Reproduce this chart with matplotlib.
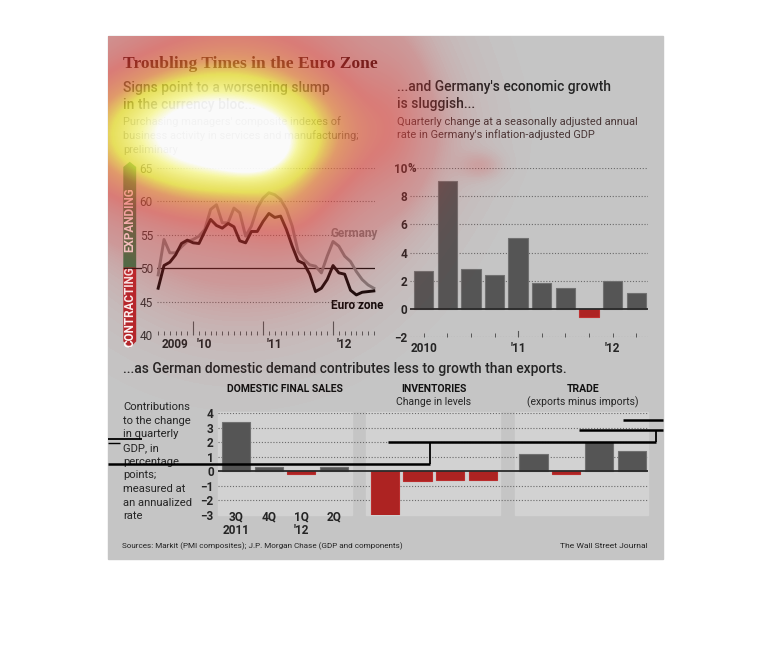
import numpy as np
import matplotlib
matplotlib.use('Agg')
import matplotlib.pyplot as plt
from matplotlib.patches import Rectangle, Polygon
from matplotlib.colors import LinearSegmentedColormap
from matplotlib.transforms import blended_transform_factory as blend

# ---- data ----
# PMI composite, monthly Jul 2009 .. Aug 2012 (flash)
euro_pmi = [47.0, 50.4, 50.9, 52.0, 53.7, 54.2, 53.8, 53.7, 55.5, 57.3,
            56.4, 56.0, 56.7, 56.2, 54.1, 53.8, 55.5, 55.5, 57.0, 58.2,
            57.6, 57.8, 55.8, 53.3, 51.1, 50.7, 49.1, 46.5, 47.0, 48.3,
            50.4, 49.3, 49.1, 46.7, 46.0, 46.4, 46.5, 46.6]
germany_pmi = [49.0, 54.3, 52.3, 52.3, 53.2, 54.0, 54.3, 54.8, 55.8, 58.8,
               59.5, 56.8, 56.8, 59.0, 58.3, 54.8, 56.3, 59.0, 60.5, 61.3,
               61.0, 60.3, 58.8, 56.3, 52.5, 51.3, 50.5, 50.3, 49.3, 51.8,
               54.0, 53.3, 51.8, 51.0, 49.5, 48.3, 47.5, 47.0]
pmi_year_ticks = [6, 18, 30]
pmi_year_labels = ["'10", "'11", "'12"]

# German GDP, quarterly change (annualised), Q1 2010 .. Q2 2012
gdp_growth = [2.7, 9.1, 2.8, 2.4, 5.0, 1.8, 1.5, -0.6, 2.0, 1.1]
gdp_year_idx = [0, 4, 8]
gdp_year_labels = ['2010', "'11", "'12"]

# contributions, 3Q 2011 .. 2Q 2012
quarters = ['3Q', '4Q', '1Q', '2Q']
domestic_sales = [3.4, 0.3, -0.2, 0.3]
inventories = [-3.0, -0.7, -0.6, -0.6]
trade = [1.2, -0.2, 2.0, 1.4]

# ---- figure in pixel terms ----
W, H = 770, 654
fig = plt.figure(figsize=(W / 100, H / 100), dpi=100)
fig.patch.set_facecolor('white')

def box(x0, y0, x1, y1):
    return [x0 / W, 1 - y1 / H, (x1 - x0) / W, (y1 - y0) / H]

SANS = ['Roboto', 'DejaVu Sans']
BG = '#c5c5c5'
PANEL = '#d2d2d2'
DARK = '#252525'
BAR = '#555555'
BAR_EDGE = '#707070'
RED = '#ad2322'
DOT = (0, (1, 1.6))
plt.rcParams['font.family'] = SANS

bg = fig.add_axes([0, 0, 1, 1], zorder=0)
bg.set_xlim(0, W)
bg.set_ylim(H, 0)
bg.axis('off')
bg.add_patch(Rectangle((108, 36), 555, 523, color=BG))

# headings
bg.text(123, 68, 'Troubling Times in the Euro Zone', family='Liberation Serif',
        weight='bold', fontsize=12.6, color='#2a0a0a')
bg.text(123, 92, 'Signs point to a worsening slump', fontsize=10, weight=500, color=DARK)
bg.text(123, 108.5, 'in the currency bloc...', fontsize=10, weight=500, color=DARK)
for i, line in enumerate(["Purchasing managers' composite indexes of",
                          'business activity in services and manufacturing;',
                          'preliminary']):
    bg.text(123, 125 + i * 13.8, line, fontsize=7.9, color='#505050')

bg.text(397, 91, "...and Germany's economic growth", fontsize=10, weight=500, color=DARK)
bg.text(397, 108, 'is sluggish...', fontsize=10, weight=500, color=DARK)
bg.text(397, 125, 'Quarterly change at a seasonally adjusted annual', fontsize=7.9, color='#4a3838')
bg.text(397, 138.5, "rate in Germany's inflation-adjusted GDP", fontsize=7.9, color='#4a3838')

bg.text(123, 373, '...as German domestic demand contributes less to growth than exports.',
        fontsize=10, weight=500, color=DARK)
for i, line in enumerate(['Contributions', 'to the change', 'in quarterly', 'GDP, in',
                          'percentage', 'points;', 'measured at', 'an annualized', 'rate']):
    bg.text(123, 410 + i * 13.65, line, fontsize=8.1, color=DARK)

bg.text(122, 548.5, 'Sources: Markit (PMI composites); J.P. Morgan Chase (GDP and components)',
        fontsize=5.9, color=DARK)
bg.text(648, 548.5, 'The Wall Street Journal', fontsize=6.1, color=DARK, ha='right')

# ---- PMI line chart ----
ax1 = fig.add_axes(box(157, 168, 375, 335), zorder=1)
ax1.patch.set_alpha(0)
months = np.arange(len(euro_pmi))
ax1.set_xlim(-0.2, 37.2)
ax1.set_ylim(40, 65)
for s in ax1.spines.values():
    s.set_visible(False)
for v in [40, 45, 55, 60, 65]:
    ax1.axhline(v, color='#6a6a6a', lw=0.8, ls=DOT, zorder=1)
ax1.axhline(50, color='#111111', lw=0.9, zorder=2)
ax1.plot(months, germany_pmi, color='#7b7b7b', lw=2.1, solid_joinstyle='round', zorder=3, clip_on=False)
ax1.plot(months, euro_pmi, color='#0a0a0a', lw=2.1, solid_joinstyle='round', zorder=4, clip_on=False)
ax1.set_yticks([40, 45, 50, 55, 60, 65])
ax1.tick_params(axis='y', length=0, pad=3, labelsize=8.5, labelcolor='#333333')
ax1.set_xticks(pmi_year_ticks)
ax1.set_xticks(months, minor=True)
ax1.set_xticklabels([])
ax1.tick_params(axis='x', which='major', direction='in', length=10, width=0.8, color='#555555')
ax1.tick_params(axis='x', which='minor', direction='in', length=3, width=0.7, color='#555555')
tx1 = blend(ax1.transData, bg.transData)
ax1.text(2.9, 347.5, '2009', transform=tx1, ha='center', fontsize=8.5, weight='bold', color=DARK)
for m, lab in zip(pmi_year_ticks, pmi_year_labels):
    ax1.text(m + 0.6, 347.5, lab, transform=tx1, ha='left', fontsize=8.5, weight='bold', color=DARK)
ax1.text(29.6, 237.5, 'Germany', transform=tx1, fontsize=8.5, weight='bold', color='#777777')
ax1.text(29.6, 309, 'Euro zone', transform=tx1, fontsize=8.5, weight='bold', color='#0a0a0a')

# expanding / contracting arrows left of the PMI axis
ta = blend(bg.transData, ax1.transData)
bg.add_patch(Polygon([(124, 50), (135.5, 50), (135.5, 65.1), (129.75, 65.8), (124, 65.1)],
                     closed=True, color='#2c7a4c', transform=ta))
bg.add_patch(Polygon([(124, 50), (135.5, 50), (135.5, 39.1), (129.75, 38.2), (124, 39.1)],
                     closed=True, color='#b3262b', transform=ta))
bg.plot([124, 141], [50, 50], color='#111111', lw=0.9, transform=ta)
bg.text(130, 57.3, 'EXPANDING', transform=ta, rotation=90, ha='center', va='center',
        fontsize=8.4, weight='bold', color='white')
bg.text(130, 44.3, 'CONTRACTING', transform=ta, rotation=90, ha='center', va='center',
        fontsize=8.4, weight='bold', color='white')

# ---- GDP bar chart ----
ax2 = fig.add_axes(box(410, 168, 648, 337), zorder=1)
ax2.patch.set_alpha(0)
q = np.arange(len(gdp_growth))
ax2.set_xlim(-0.58, 9.5)
ax2.set_ylim(-2, 10)
for s in ax2.spines.values():
    s.set_visible(False)
for v in [-2, 2, 4, 6, 8]:
    ax2.axhline(v, color='#6a6a6a', lw=0.8, ls=DOT, zorder=1)
ax2.axhline(10, xmin=0.017, color='#6a6a6a', lw=0.8, ls=DOT, zorder=1)
ax2.bar(q, gdp_growth, width=0.82,
        color=[BAR if v >= 0 else RED for v in gdp_growth],
        edgecolor=[BAR_EDGE if v >= 0 else '#c03030' for v in gdp_growth], lw=0.8, zorder=2)
ax2.axhline(0, color='#2a2a2a', lw=1.3, zorder=3)
ax2.set_yticks([-2, 0, 2, 4, 6, 8, 10])
ax2.set_yticklabels(['\u22122', '0', '2', '4', '6', '8', '10'])
ax2.tick_params(axis='y', length=0, pad=2, labelsize=8.5, labelcolor=DARK)
for t in ax2.get_yticklabels():
    t.set_fontweight('bold')
tx2 = blend(bg.transData, ax2.transData)
ax2.text(407, 10, '%', transform=tx2, va='center', ha='left', fontsize=8.5, weight='bold', color=DARK)
ax2.set_xticks(q)
ax2.set_xticklabels([])
ax2.tick_params(axis='x', direction='in', length=3, width=0.7, color='#555555')
tg = blend(ax2.transData, bg.transData)
for i, lab in zip(gdp_year_idx, gdp_year_labels):
    ax2.text(i, 351.5, lab, transform=tg, ha='center', fontsize=8.5, weight='bold', color=DARK)
ax2.plot([4, 4], [-2, -1.6], color='#555555', lw=0.8)

# ---- contributions chart ----
ax3 = fig.add_axes(box(218, 413, 648, 515), zorder=1)
ax3.patch.set_alpha(0)
ax3.set_xlim(-0.55, 12.6)
ax3.set_ylim(-3, 4)
for s in ax3.spines.values():
    s.set_visible(False)
groups = [(0.0, domestic_sales), (4.55, inventories), (9.1, trade)]
panels = [(-0.55, 3.55), (3.98, 8.07), (8.53, 12.6)]
for x0, x1 in panels:
    ax3.add_patch(Rectangle((x0, -3), x1 - x0, 7.08, color=PANEL, zorder=0, clip_on=False))
for v in [-2, -1, 1, 2, 3, 4]:
    ax3.axhline(v, color='#6a6a6a', lw=0.8, ls=DOT, zorder=1)
for start, vals in groups:
    xs = start + np.arange(len(vals))
    ax3.bar(xs, vals, width=0.86,
            color=[BAR if v >= 0 else RED for v in vals],
            edgecolor=[BAR_EDGE if v >= 0 else '#bb2d2d' for v in vals], lw=0.8, zorder=2)
ax3.axhline(0, color='#2a2a2a', lw=1.3, zorder=3)
ax3.set_yticks(range(-3, 5))
ax3.set_yticklabels([str(v).replace('-', '\u2212') for v in range(-3, 5)])
ax3.tick_params(axis='y', length=0, pad=3, labelsize=8.5, labelcolor=DARK)
for t in ax3.get_yticklabels():
    t.set_fontweight('bold')
ax3.set_xticks([])
tb = blend(ax3.transData, bg.transData)
for i, lab in enumerate(quarters):
    ax3.text(i, 520.5, lab, transform=tb, ha='center', fontsize=8.5, weight='bold', color=DARK)
ax3.text(0, 534, '2011', transform=tb, ha='center', fontsize=8.5, weight='bold', color=DARK)
ax3.text(2, 534, "'12", transform=tb, ha='center', fontsize=8.5, weight='bold', color=DARK)
ax3.text(1.5, 392.5, 'DOMESTIC FINAL SALES', transform=tb, ha='center', fontsize=7.5, weight='bold', color='#111111')
ax3.text(6.05, 392.5, 'INVENTORIES', transform=tb, ha='center', fontsize=7.5, weight='bold', color='#111111')
ax3.text(6.05, 405, 'Change in levels', transform=tb, ha='center', fontsize=7.5, color=DARK)
ax3.text(10.6, 392.5, 'TRADE', transform=tb, ha='center', fontsize=7.5, weight='bold', color='#111111')
ax3.text(10.6, 405, '(exports minus imports)', transform=tb, ha='center', fontsize=7.5, color=DARK)

# ---- overlay: gaze heat map and stray leader lines seen in the reference ----
ov = fig.add_axes([0, 0, 1, 1], zorder=5)
ov.axis('off')
ov.patch.set_alpha(0)

# (x, y, sigma_x, sigma_y, weight)
heat_spots = [(205, 135, 92, 44, 0.88),
              (255, 146, 24, 18, 0.35),
              (240, 110, 92, 100, 0.36),
              (285, 210, 30, 28, 0.12),
              (395, 120, 20, 45, 0.09),
              (480, 165, 14, 9, 0.05)]
yy, xx = np.mgrid[36:559, 108:663]
heat = np.zeros(xx.shape)
for x, y, sx, sy, w in heat_spots:
    heat += w * np.exp(-((xx - x) ** 2 / (2 * sx ** 2) + (yy - y) ** 2 / (2 * sy ** 2)))
heat = np.clip(heat, 0, 1)
heat_cmap = LinearSegmentedColormap.from_list('gaze', [
    (0.0, (0.86, 0.16, 0.16, 0.0)),
    (0.08, (0.88, 0.2, 0.2, 0.3)),
    (0.3, (0.92, 0.25, 0.22, 0.55)),
    (0.5, (0.95, 0.5, 0.2, 0.62)),
    (0.66, (0.96, 0.92, 0.2, 0.72)),
    (0.88, (1.0, 1.0, 0.6, 0.85)),
    (1.0, (1.0, 1.0, 1.0, 0.93))])
ov.imshow(heat, cmap=heat_cmap, vmin=0, vmax=1, extent=(108, 663, 559, 36),
          interpolation='bilinear', zorder=1)
ov.set_xlim(0, W)
ov.set_ylim(H, 0)

leader_lines = [((108, 439), (142, 439), 1.3), ((108, 443), (120, 443), 1.0),
                ((108, 464), (430, 464), 1.8), ((430, 464), (430, 442), 1.3),
                ((388, 442), (656, 442), 1.8), ((656, 442), (656, 430), 1.3),
                ((579, 430), (663, 430), 1.8), ((623, 420), (663, 420), 1.8)]
for (xa, ya), (xb, yb), lw in leader_lines:
    ov.plot([xa, xb], [ya, yb], color='black', lw=lw, solid_capstyle='butt', zorder=2)

fig.savefig('out.png', dpi=100)
